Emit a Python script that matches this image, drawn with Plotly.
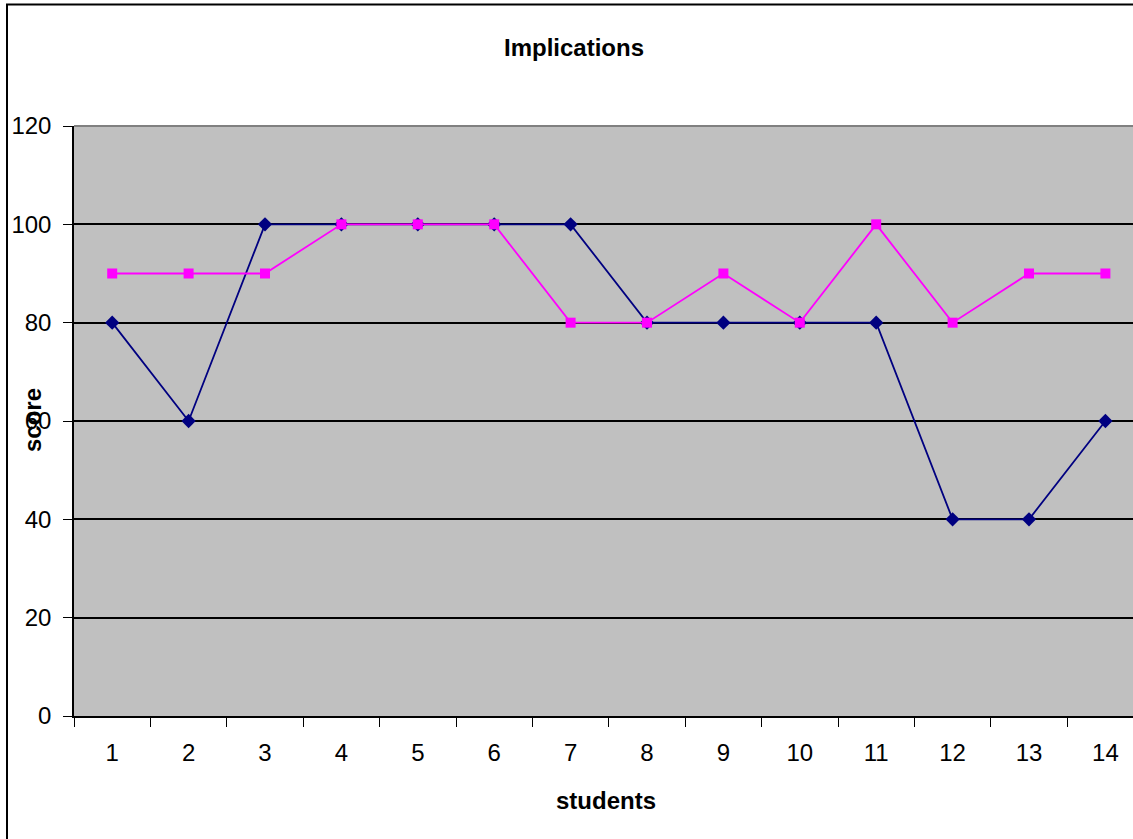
import plotly.graph_objects as go

students = ["1", "2", "3", "4", "5", "6", "7", "8", "9", "10", "11", "12", "13", "14"]
series_navy = [80, 60, 100, 100, 100, 100, 100, 80, 80, 80, 80, 40, 40, 60]
series_magenta = [90, 90, 90, 100, 100, 100, 80, 80, 90, 80, 100, 80, 90, 90]
y_ticks = [0, 20, 40, 60, 80, 100, 120]

W, H = 1133, 839
L, R, T, B = 74, 0, 126, 123
pw, ph = W - L - R, H - T - B
cat_w = 76.4

def px_x(x):
    return (x - L) / pw

def px_y(y):
    return 1 - (y - T) / ph

FONT = "Liberation Sans, Arial, sans-serif"

fig = go.Figure()
fig.add_trace(go.Scatter(
    x=students, y=series_navy, mode="lines+markers",
    line=dict(color="#000080", width=1.8),
    marker=dict(symbol="diamond", size=11, color="#000080"),
    showlegend=False,
))
fig.add_trace(go.Scatter(
    x=students, y=series_magenta, mode="lines+markers",
    line=dict(color="#FF00FF", width=1.8),
    marker=dict(symbol="square", size=10, color="#FF00FF"),
    showlegend=False,
))

fig.update_layout(
    width=W, height=H,
    margin=dict(l=L, r=R, t=T, b=B, pad=0),
    paper_bgcolor="white",
    plot_bgcolor="#C0C0C0",
    font=dict(family=FONT, color="black", size=24),
    xaxis=dict(
        type="category", range=[-0.5, pw / cat_w - 0.5], tickson="boundaries",
        ticks="outside", ticklen=9, tickcolor="black", tickwidth=1,
        showline=True, linecolor="black", linewidth=1.5,
        showgrid=False, zeroline=False,
        tickfont=dict(size=24), ticklabelstandoff=14,
    ),
    yaxis=dict(
        range=[0, 120], tickvals=y_ticks,
        ticks="outside", ticklen=9, tickcolor="black", tickwidth=1,
        showline=True, linecolor="black", linewidth=1.5,
        showgrid=True, gridcolor="black", gridwidth=1.5,
        zeroline=False, tickfont=dict(size=24), ticklabelstandoff=7,
    ),
    shapes=[
        dict(type="line", xref="paper", yref="paper", x0=0, x1=1, y0=1, y1=1,
             line=dict(color="#808080", width=2)),
        dict(type="rect", xref="paper", yref="paper",
             x0=px_x(7), x1=px_x(1145), y0=px_y(860), y1=px_y(4.5),
             line=dict(color="black", width=2), fillcolor="rgba(0,0,0,0)"),
    ],
    annotations=[
        dict(text="<b>Implications</b>", xref="paper", yref="paper",
             x=px_x(574), y=px_y(47), showarrow=False,
             font=dict(size=24), xanchor="center", yanchor="middle"),
        dict(text="<b>students</b>", xref="paper", yref="paper",
             x=px_x(606), y=px_y(800), showarrow=False,
             font=dict(size=24), xanchor="center", yanchor="middle"),
        dict(text="<b>score</b>", xref="paper", yref="paper",
             x=px_x(32), y=px_y(420), showarrow=False, textangle=-90,
             font=dict(size=24), xanchor="center", yanchor="middle"),
    ],
)

fig.write_html(
    "out.html",
    config={"displayModeBar": False},
    post_script="document.body.style.margin='0';document.body.style.overflow='hidden';",
)
